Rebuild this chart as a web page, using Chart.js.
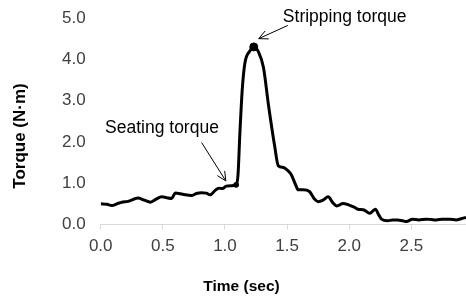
<!DOCTYPE html>
<html>
<head>
<meta charset="utf-8">
<script src="https://cdn.jsdelivr.net/npm/chart.js@4/dist/chart.umd.min.js"></script>
<style>
  body { margin: 0; background: #fff; }
  canvas { display: block; }
</style>
</head>
<body>
<canvas id="chart" width="466" height="300"></canvas>
<script>
// valores
const tiempos = [0.00, 0.05, 0.09, 0.13, 0.17, 0.22, 0.30, 0.35, 0.40, 0.45, 0.49, 0.53, 0.57, 0.60,
  0.66, 0.73, 0.77, 0.81, 0.85, 0.88, 0.92, 0.95, 0.98, 1.01, 1.05, 1.09, 1.105, 1.12, 1.14, 1.16,
  1.20, 1.232, 1.27, 1.31, 1.35, 1.40, 1.43, 1.47, 1.50, 1.535, 1.57, 1.59, 1.63, 1.68, 1.72, 1.75,
  1.79, 1.83, 1.87, 1.90, 1.95, 2.00, 2.04, 2.07, 2.12, 2.165, 2.21, 2.24, 2.26, 2.31, 2.35, 2.39,
  2.43, 2.46, 2.51, 2.56, 2.62, 2.66, 2.70, 2.75, 2.81, 2.86, 2.90, 2.94];
const torque = [0.50, 0.49, 0.46, 0.50, 0.54, 0.56, 0.64, 0.59, 0.54, 0.62, 0.67, 0.65, 0.63, 0.76,
  0.73, 0.70, 0.75, 0.77, 0.76, 0.72, 0.82, 0.88, 0.87, 0.93, 0.94, 0.96, 1.20, 2.20, 3.30, 3.90,
  4.20, 4.30, 4.18, 3.80, 2.90, 1.90, 1.42, 1.38, 1.32, 1.20, 0.95, 0.84, 0.84, 0.80, 0.62, 0.55,
  0.59, 0.67, 0.52, 0.45, 0.51, 0.47, 0.42, 0.37, 0.35, 0.27, 0.37, 0.22, 0.13, 0.09, 0.11, 0.11,
  0.09, 0.07, 0.13, 0.11, 0.13, 0.12, 0.11, 0.13, 0.13, 0.11, 0.14, 0.17];

const puntosTiempo = [1.09, 1.232];
const puntosTorque = [0.96, 4.30];
const puntosRadio = [2.5, 4];

const ticksY = [0, 1, 2, 3, 4, 5];
const ticksX = [0, 0.5, 1, 1.5, 2, 2.5];

const etiquetas = [
  { texto: "Stripping torque", tx: 1.466, ty: 5.01, desde: [1.506, 4.82], hasta: [1.272, 4.50] },
  { texto: "Seating torque", tx: 0.035, ty: 2.34, desde: [0.812, 1.985], hasta: [1.007, 1.056] },
];

const FUENTE = "'Liberation Sans', Arial, sans-serif";

function flecha(ctx, x1, y1, x2, y2) {
  const ang = Math.atan2(y2 - y1, x2 - x1);
  const largo = 10, abre = 0.45;
  ctx.beginPath();
  ctx.moveTo(x1, y1);
  ctx.lineTo(x2, y2);
  ctx.moveTo(x2 - largo * Math.cos(ang - abre), y2 - largo * Math.sin(ang - abre));
  ctx.lineTo(x2, y2);
  ctx.lineTo(x2 - largo * Math.cos(ang + abre), y2 - largo * Math.sin(ang + abre));
  ctx.stroke();
}

const anotaciones = {
  id: "anotaciones",
  afterDraw(chart) {
    const { ctx, scales: { x, y } } = chart;
    ctx.save();
    ctx.fillStyle = "#000";
    ctx.strokeStyle = "#000";
    ctx.lineWidth = 1;
    ctx.font = "17.5px " + FUENTE;
    ctx.textAlign = "left";
    ctx.textBaseline = "middle";
    etiquetas.forEach((e) => {
      ctx.fillText(e.texto, x.getPixelForValue(e.tx), y.getPixelForValue(e.ty));
      flecha(ctx,
        x.getPixelForValue(e.desde[0]), y.getPixelForValue(e.desde[1]),
        x.getPixelForValue(e.hasta[0]), y.getPixelForValue(e.hasta[1]));
    });

    // titulos de ejes
    ctx.textAlign = "center";
    ctx.font = "bold 15.5px " + FUENTE;
    ctx.fillText("Time (sec)", 241.5, 287);
    ctx.translate(20, 136);
    ctx.rotate(-Math.PI / 2);
    ctx.font = "bold 17px " + FUENTE;
    ctx.fillText("Torque (N\u00b7m)", 0, 0);
    ctx.restore();
  },
};

new Chart(document.getElementById("chart"), {
  type: "line",
  data: {
    datasets: [
      {
        data: tiempos.map((t, i) => ({ x: t, y: torque[i] })),
        borderColor: "#000",
        borderWidth: 3,
        pointRadius: 0,
        cubicInterpolationMode: "monotone",
        fill: false,
      },
      {
        data: puntosTiempo.map((t, i) => ({ x: t, y: puntosTorque[i] })),
        showLine: false,
        pointRadius: puntosRadio,
        pointBackgroundColor: "#000",
        pointBorderColor: "#000",
        pointBorderWidth: 1,
      },
    ],
  },
  options: {
    responsive: false,
    animation: false,
    layout: { autoPadding: false, padding: { top: 18, right: 0, left: 0, bottom: 0 } },
    plugins: { legend: { display: false }, tooltip: { enabled: false } },
    scales: {
      x: {
        type: "linear",
        min: 0,
        max: 2.94,
        afterFit: (s) => { s.height = 75.5; s.paddingLeft = 0; s.paddingRight = 0; },
        afterBuildTicks: (s) => { s.ticks = ticksX.map((v) => ({ value: v })); },
        ticks: {
          callback: (v) => v.toFixed(1),
          color: "#404040",
          font: { size: 17, family: FUENTE },
          padding: 7,
          maxRotation: 0,
        },
        grid: { drawOnChartArea: false, color: "#d9d9d9", tickLength: 5 },
        border: { display: true, color: "#d9d9d9", width: 1 },
      },
      y: {
        min: 0,
        max: 5,
        afterFit: (s) => { s.width = 100.7; s.paddingTop = 0; s.paddingBottom = 0; },
        afterBuildTicks: (s) => { s.ticks = ticksY.map((v) => ({ value: v })); },
        ticks: {
          callback: (v) => v.toFixed(1),
          color: "#404040",
          font: { size: 17, family: FUENTE },
          padding: 15,
        },
        grid: { display: false, drawTicks: false },
        border: { display: false },
      },
    },
  },
  plugins: [anotaciones],
});
</script>
</body>
</html>
